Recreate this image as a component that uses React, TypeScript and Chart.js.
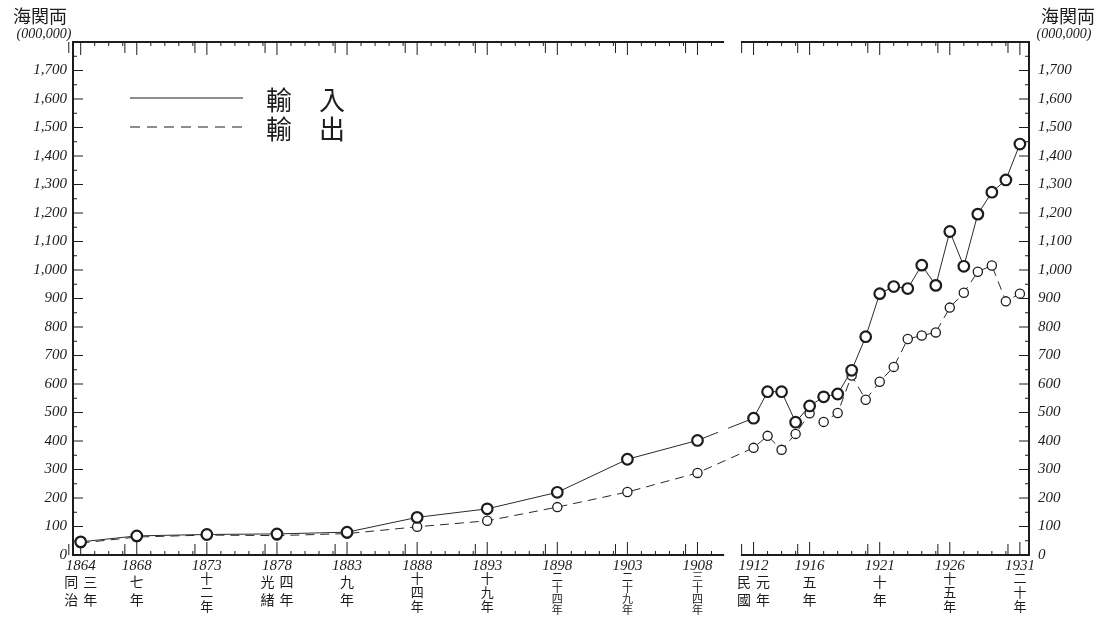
import React, { useEffect, useRef } from "react";
import { Chart, registerables } from "chart.js";

Chart.register(...registerables);

const years = [
  1864, 1868, 1873, 1878, 1883, 1888, 1893, 1898, 1903, 1908,
  1912, 1913, 1914, 1915, 1916, 1917, 1918, 1919, 1920, 1921,
  1922, 1923, 1924, 1925, 1926, 1927, 1928, 1929, 1930, 1931,
];
const importsVals = [
  46, 67, 72, 74, 80, 132, 162, 220, 336, 402,
  480, 573, 573, 466, 523, 555, 565, 648, 766, 917,
  942, 935, 1017, 946, 1135, 1013, 1196, 1273, 1316, 1442,
];
const exportsVals = [
  42, 63, 70, 68, 75, 99, 120, 168, 221, 288,
  376, 418, 369, 425, 497, 467, 498, 630, 545, 608,
  660, 758, 770, 781, 868, 920, 994, 1016, 890, 917,
];
const tickYears = [1864, 1868, 1873, 1878, 1883, 1888, 1893, 1898, 1903, 1908, 1912, 1916, 1921, 1926, 1931];
const reignLabels = [
  "同治|三年", "七年", "十二年", "光緒|四年", "九年", "十四年", "十九年", "二十四年",
  "二十九年", "三十四年", "民國|元年", "五年", "十年", "十五年", "二十年",
];
const seriesNames = ["輸入", "輸出"];
const unitLabel = "海関両";
const unitSub = "(000,000)";

const X_MIN = 1863.45;
const X_MAX = 1931.65;
const Y_MAX = 1800;
const BREAK_A = 1909.9;
const BREAK_B = 1911.1;

const INK = "#1c1c1c";
const SERIF = "'Liberation Serif', 'DejaVu Serif', serif";
const CJK = "'Noto Sans CJK TC', 'Noto Sans CJK SC', sans-serif";

const decorPlugin = {
  id: "decor",
  beforeDatasetsDraw(chart: any) {
    const { ctx, chartArea: a, scales } = chart;
    const x = scales.x;
    const y = scales.y;
    const line = (x0: number, y0: number, x1: number, y1: number) => {
      ctx.beginPath();
      ctx.moveTo(x0, y0);
      ctx.lineTo(x1, y1);
      ctx.stroke();
    };
    ctx.save();
    ctx.strokeStyle = INK;
    ctx.lineWidth = 2;
    const g0 = x.getPixelForValue(BREAK_A);
    const g1 = x.getPixelForValue(BREAK_B);
    line(a.left, a.top - 1, a.left, a.bottom + 1);
    line(a.right, a.top - 1, a.right, a.bottom + 1);
    line(a.left, a.top, g0, a.top);
    line(g1, a.top, a.right, a.top);
    line(a.left, a.bottom, g0, a.bottom);
    line(g1, a.bottom, a.right, a.bottom);
    ctx.lineWidth = 1;
    for (let v = 0; v <= Y_MAX; v += 50) {
      const py = y.getPixelForValue(v);
      const len = v % 100 === 0 ? 10 : 4;
      line(a.left, py, a.left + len, py);
      line(a.right, py, a.right - len, py);
    }
    for (let yr = 1864; yr <= 1931; yr++) {
      if (yr > BREAK_A && yr < BREAK_B) continue;
      const px = x.getPixelForValue(yr);
      const major = tickYears.includes(yr);
      const len = major ? 13 : 4;
      line(px, a.bottom, px, a.bottom - len);
      line(px, a.top, px, a.top + len);
      if (major) {
        const px2 = x.getPixelForValue(yr - 0.85);
        line(px2, a.bottom, px2, a.bottom - 11);
        line(px2, a.top, px2, a.top + 11);
      }
    }
    ctx.restore();
  },
  afterDraw(chart: any) {
    const { ctx, scales } = chart;
    const x = scales.x;
    ctx.save();
    ctx.fillStyle = INK;
    ctx.textBaseline = "middle";
    ctx.textAlign = "center";
    // reign-year labels under the axis
    tickYears.forEach((yr, i) => {
      const px = x.getPixelForValue(yr);
      const cols = reignLabels[i].split("|");
      const colGap = 19;
      cols.forEach((col, ci) => {
        const cx = px + (ci - (cols.length - 1) / 2) * colGap;
        const chars = Array.from(col);
        const n = chars.length;
        const size = n >= 4 ? 11 : n === 3 ? 13 : 14;
        const step = n >= 4 ? 11 : n === 3 ? 14 : 18;
        const top = n >= 4 ? 577 : n === 3 ? 578 : 582;
        ctx.font = `${size}px ${CJK}`;
        chars.forEach((ch, k) => ctx.fillText(ch, cx, top + k * step));
      });
    });
    // unit labels
    ctx.font = `18px ${CJK}`;
    ctx.fillText(unitLabel, 40, 16);
    ctx.fillText(unitLabel, 1068, 16);
    ctx.font = `italic 14px ${SERIF}`;
    ctx.fillText(unitSub, 44, 34);
    ctx.fillText(unitSub, 1064, 34);
    // legend
    ctx.strokeStyle = INK;
    ctx.lineWidth = 1.2;
    ctx.beginPath();
    ctx.moveTo(130, 98);
    ctx.lineTo(243, 98);
    ctx.stroke();
    ctx.setLineDash([10, 7]);
    ctx.beginPath();
    ctx.moveTo(130, 127);
    ctx.lineTo(243, 127);
    ctx.stroke();
    ctx.setLineDash([]);
    ctx.font = `26px ${CJK}`;
    seriesNames.forEach((name, i) => {
      const chars = Array.from(name);
      const yy = 100 + i * 29;
      ctx.fillText(chars[0], 279, yy);
      ctx.fillText(chars[1], 332, yy);
    });
    ctx.restore();
  },
};

export default function App() {
  const ref = useRef<HTMLCanvasElement | null>(null);
  useEffect(() => {
    if (!ref.current) return;
    const yTickCb = (v: any) => (v >= Y_MAX ? "" : Number(v).toLocaleString("en-US"));
    const tickFont = { family: SERIF, style: "italic", size: 15 };
    const chart = new Chart(ref.current, {
      type: "line",
      data: {
        datasets: [
          {
            label: seriesNames[0],
            data: years.map((yr, i) => ({ x: yr, y: importsVals[i] })),
            borderColor: "#2a2a2a",
            borderWidth: 1,
            pointRadius: 5.3,
            pointBorderWidth: 2.2,
            pointBorderColor: INK,
            pointBackgroundColor: "#ffffff",
            segment: {
              borderDash: (c: any) => (c.p0.parsed.x === 1908 ? [22, 11] : undefined),
            },
            tension: 0,
          },
          {
            label: seriesNames[1],
            data: years.map((yr, i) => ({ x: yr, y: exportsVals[i] })),
            borderColor: "#2a2a2a",
            borderWidth: 1,
            borderDash: [9, 6],
            pointRadius: 4.6,
            pointBorderWidth: 1.3,
            pointBorderColor: INK,
            pointBackgroundColor: "#ffffff",
            tension: 0,
          },
        ],
      },
      options: {
        animation: false,
        responsive: false,
        devicePixelRatio: 1,
        layout: { padding: { top: 42, left: 0, right: 0, bottom: 0 } },
        plugins: { legend: { display: false }, tooltip: { enabled: false }, title: { display: false } },
        scales: {
          x: {
            type: "linear",
            min: X_MIN,
            max: X_MAX,
            afterBuildTicks: (s: any) => {
              s.ticks = tickYears.map((v) => ({ value: v }));
            },
            afterFit: (s: any) => {
              s.height = 66;
            },
            grid: { display: false, drawTicks: false },
            border: { display: false },
            ticks: {
              autoSkip: false,
              maxRotation: 0,
              padding: 2,
              color: INK,
              font: tickFont,
              callback: (v: any) => String(v),
            },
          },
          y: {
            type: "linear",
            position: "left",
            min: 0,
            max: Y_MAX,
            afterFit: (s: any) => {
              s.width = 73;
            },
            grid: { display: false, drawTicks: false },
            border: { display: false },
            ticks: {
              stepSize: 100,
              padding: 6,
              color: INK,
              font: tickFont,
              callback: yTickCb,
            },
          },
          y2: {
            type: "linear",
            position: "right",
            min: 0,
            max: Y_MAX,
            afterFit: (s: any) => {
              s.width = 78;
            },
            grid: { display: false, drawTicks: false },
            border: { display: false },
            ticks: {
              stepSize: 100,
              padding: 9,
              color: INK,
              font: tickFont,
              callback: yTickCb,
            },
          },
        },
      },
      plugins: [decorPlugin],
    } as any);
    return () => chart.destroy();
  }, []);
  return (
    <div style={{ position: "absolute", left: 0, top: 0, width: 1107, height: 621, background: "#fff" }}>
      <canvas ref={ref} width={1107} height={621} style={{ display: "block" }} />
    </div>
  );
}
